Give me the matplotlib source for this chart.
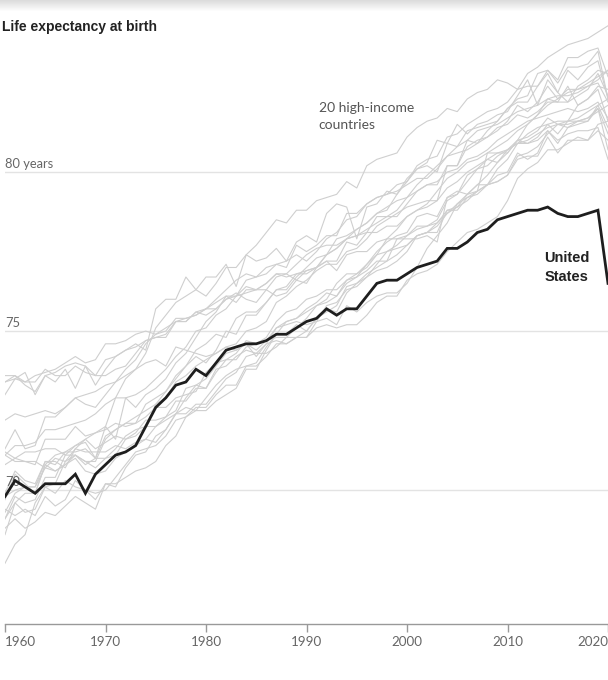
import numpy as np
from matplotlib import pyplot as plt

# ── Data (life expectancy at birth, years) ───────────────────────────────────
years = list(range(1960, 2021))

united_states = [69.8, 70.3, 70.1, 69.9, 70.2, 70.2, 70.2, 70.5, 69.9, 70.5,
                 70.8, 71.1, 71.2, 71.4, 72.0, 72.6, 72.9, 73.3, 73.4, 73.8,
                 73.6, 74.0, 74.4, 74.5, 74.6, 74.6, 74.7, 74.9, 74.9, 75.1,
                 75.3, 75.4, 75.7, 75.5, 75.7, 75.7, 76.1, 76.5, 76.6, 76.6,
                 76.8, 77.0, 77.1, 77.2, 77.6, 77.6, 77.8, 78.1, 78.2, 78.5,
                 78.6, 78.7, 78.8, 78.8, 78.9, 78.7, 78.6, 78.6, 78.7, 78.8,
                 76.5]

japan = [67.7, 68.3, 68.6, 69.6, 70.1, 70.2, 70.9, 71.3, 71.6, 71.8,
         72.0, 72.9, 73.5, 73.8, 74.3, 75.1, 75.5, 75.9, 76.1, 76.3,
         76.1, 76.5, 77.0, 77.0, 77.4, 77.7, 78.1, 78.5, 78.4, 78.8,
         78.8, 79.1, 79.2, 79.3, 79.7, 79.5, 80.2, 80.4, 80.5, 80.6,
         81.1, 81.4, 81.6, 81.7, 82.0, 81.9, 82.3, 82.5, 82.6, 82.9,
         82.8, 82.6, 83.1, 83.3, 83.6, 83.8, 84.0, 84.1, 84.2, 84.4,
         84.6]
sweden = [73.0, 73.5, 73.4, 73.6, 73.7, 73.8, 74.0, 74.2, 74.0, 74.1,
          74.6, 74.6, 74.7, 74.9, 75.0, 74.9, 75.0, 75.4, 75.4, 75.5,
          75.7, 76.0, 76.3, 76.6, 76.8, 76.7, 77.0, 77.1, 77.0, 77.7,
          77.5, 77.7, 78.0, 78.0, 78.7, 78.7, 79.0, 79.2, 79.3, 79.4,
          79.6, 79.8, 79.8, 80.1, 80.5, 80.6, 80.7, 80.9, 81.1, 81.4,
          81.5, 81.8, 81.7, 81.9, 82.2, 82.2, 82.2, 82.4, 82.6, 83.1,
          82.4]
norway = [73.6, 73.6, 73.3, 73.1, 73.6, 73.7, 73.9, 74.0, 73.9, 73.6,
          74.1, 74.2, 74.4, 74.5, 74.7, 74.8, 74.9, 75.3, 75.4, 75.5,
          75.7, 75.7, 76.0, 76.2, 76.0, 75.9, 76.3, 76.1, 76.2, 76.6,
          76.5, 77.0, 77.2, 77.2, 77.8, 77.7, 78.1, 78.1, 78.3, 78.3,
          78.6, 78.8, 79.0, 79.4, 79.8, 80.0, 80.3, 80.4, 80.6, 80.8,
          81.0, 81.3, 81.5, 81.8, 82.1, 82.3, 82.5, 82.6, 82.8, 83.0,
          83.2]
netherlands = [73.4, 73.6, 73.4, 73.4, 73.8, 73.6, 73.6, 73.9, 73.7, 73.6,
               73.6, 73.8, 73.9, 74.3, 74.7, 74.8, 74.8, 75.3, 75.3, 75.6,
               75.7, 75.9, 76.1, 76.1, 76.2, 76.3, 76.3, 76.7, 76.8, 76.6,
               76.9, 77.0, 77.2, 76.9, 77.4, 77.5, 77.5, 77.8, 77.9, 77.9,
               78.0, 78.2, 78.3, 78.5, 79.1, 79.3, 79.7, 80.1, 80.2, 80.5,
               80.7, 81.0, 81.1, 81.3, 81.7, 81.5, 81.5, 81.6, 81.6, 82.1,
               81.4]
iceland = [73.4, 73.5, 73.7, 73.0, 73.6, 73.4, 73.8, 73.2, 73.9, 73.3,
           73.8, 74.2, 74.4, 74.6, 74.4, 75.7, 76.0, 76.0, 76.7, 76.3,
           76.7, 76.7, 77.1, 76.4, 77.4, 77.2, 77.3, 77.6, 77.2, 77.8,
           78.0, 77.8, 78.7, 79.0, 78.9, 77.9, 78.9, 79.0, 79.4, 79.3,
           79.7, 80.1, 80.3, 81.0, 80.9, 81.5, 81.2, 81.5, 81.6, 81.8,
           81.9, 82.4, 82.9, 82.1, 82.9, 82.5, 82.2, 82.7, 82.9, 83.2,
           83.1]
denmark = [72.2, 72.4, 72.3, 72.4, 72.5, 72.4, 72.6, 72.9, 73.0, 73.1,
           73.3, 73.4, 73.6, 73.8, 74.0, 74.1, 73.9, 74.5, 74.4, 74.3,
           74.2, 74.3, 74.5, 74.4, 74.6, 74.4, 74.7, 74.8, 74.8, 74.8,
           74.8, 75.1, 75.2, 75.1, 75.2, 75.2, 75.5, 75.9, 76.1, 76.1,
           76.6, 76.8, 76.9, 77.1, 77.5, 77.8, 78.1, 78.2, 78.4, 78.6,
           79.1, 79.8, 80.1, 80.3, 80.7, 80.7, 80.9, 81.1, 81.0, 81.5,
           81.6]
switzerland = [71.3, 71.9, 71.3, 71.4, 72.3, 72.3, 72.6, 72.9, 72.7, 72.6,
               73.0, 73.4, 73.8, 74.1, 74.6, 74.9, 75.1, 75.3, 75.3, 75.6,
               75.5, 75.7, 76.0, 76.1, 76.6, 76.7, 76.8, 77.1, 77.2, 77.4,
               77.2, 77.5, 77.9, 78.1, 78.5, 78.6, 79.0, 79.2, 79.3, 79.6,
               79.7, 80.2, 80.4, 80.5, 81.1, 81.2, 81.5, 81.7, 81.9, 82.0,
               82.2, 82.6, 82.7, 82.7, 83.2, 82.9, 83.6, 83.6, 83.8, 83.9,
               83.0]
canada = [71.1, 71.4, 71.4, 71.5, 71.9, 71.9, 72.0, 72.1, 72.2, 72.4,
          72.7, 72.9, 72.9, 73.0, 73.2, 73.5, 73.8, 74.2, 74.5, 75.0,
          75.1, 75.5, 75.7, 76.1, 76.4, 76.3, 76.5, 76.8, 76.8, 77.1,
          77.4, 77.6, 77.7, 77.7, 77.9, 78.0, 78.2, 78.4, 78.6, 78.8,
          79.2, 79.4, 79.6, 79.7, 80.0, 80.1, 80.4, 80.5, 80.7, 81.0,
          81.2, 81.4, 81.6, 81.7, 81.8, 81.9, 82.0, 81.9, 82.0, 82.2,
          81.7]
australia = [70.8, 71.0, 70.9, 70.9, 70.7, 71.0, 70.9, 71.1, 70.8, 71.0,
             71.0, 71.3, 71.7, 71.9, 72.0, 72.7, 73.1, 73.5, 73.9, 74.4,
             74.6, 74.9, 74.8, 75.4, 75.6, 75.6, 75.9, 76.3, 76.3, 76.7,
             77.0, 77.3, 77.4, 77.9, 78.0, 78.2, 78.4, 78.7, 78.9, 79.1,
             79.2, 79.6, 79.9, 80.2, 80.5, 80.8, 81.0, 81.3, 81.4, 81.5,
             81.7, 81.9, 82.0, 82.1, 82.3, 82.4, 82.4, 82.5, 82.7, 82.9,
             83.2]
new_zealand = [71.2, 71.0, 71.2, 71.2, 71.3, 71.3, 71.1, 71.4, 71.6, 71.3,
               71.5, 71.7, 71.6, 71.8, 72.2, 72.2, 72.3, 72.5, 73.2, 73.3,
               73.2, 73.8, 73.9, 74.2, 74.4, 74.3, 74.3, 74.5, 74.8, 75.1,
               75.4, 75.8, 76.0, 76.5, 76.8, 76.8, 77.1, 77.4, 77.9, 78.2,
               78.6, 78.8, 78.9, 79.1, 79.5, 79.7, 80.0, 80.2, 80.4, 80.6,
               80.7, 80.9, 81.2, 81.4, 81.5, 81.6, 81.6, 81.7, 81.9, 82.1,
               82.3]
united_kingdom = [71.1, 70.9, 70.9, 70.8, 71.6, 71.6, 71.6, 72.0, 71.7, 71.8,
                  71.9, 72.1, 72.0, 72.1, 72.3, 72.6, 72.6, 72.9, 73.0, 73.1,
                  73.7, 74.0, 74.1, 74.3, 74.7, 74.6, 74.7, 75.1, 75.3, 75.4,
                  75.7, 75.9, 76.2, 76.1, 76.6, 76.7, 76.9, 77.2, 77.2, 77.4,
                  77.7, 78.0, 78.1, 78.3, 78.7, 79.0, 79.2, 79.4, 79.6, 80.1,
                  80.4, 80.9, 80.9, 81.0, 81.3, 81.0, 81.2, 81.3, 81.3, 81.4,
                  80.4]
france = [69.9, 70.6, 70.3, 70.2, 70.9, 70.8, 71.2, 71.2, 71.3, 71.0,
          71.7, 71.9, 72.1, 72.3, 72.5, 72.7, 72.9, 73.4, 73.6, 73.9,
          74.1, 74.3, 74.5, 74.6, 75.0, 75.1, 75.3, 75.9, 76.1, 76.4,
          76.6, 76.9, 77.1, 77.1, 77.5, 77.6, 77.9, 78.3, 78.5, 78.7,
          78.9, 79.0, 79.1, 79.1, 80.2, 80.2, 80.8, 81.0, 81.1, 81.3,
          81.6, 82.1, 81.9, 82.2, 82.7, 82.3, 82.6, 82.6, 82.7, 82.8,
          82.2]
germany = [69.3, 69.9, 70.1, 70.1, 70.7, 70.6, 70.8, 71.0, 70.6, 70.5,
           70.6, 71.0, 71.2, 71.4, 71.6, 71.5, 71.9, 72.4, 72.4, 72.7,
           72.7, 73.1, 73.5, 73.7, 74.2, 74.3, 74.6, 75.1, 75.2, 75.3,
           75.2, 75.3, 75.8, 75.9, 76.3, 76.4, 76.7, 77.1, 77.5, 77.7,
           78.0, 78.3, 78.3, 78.4, 78.7, 78.9, 79.1, 79.4, 79.6, 79.7,
           79.9, 80.4, 80.5, 80.5, 81.1, 80.6, 81.0, 81.0, 81.0, 81.3,
           81.0]
italy = [69.1, 69.8, 69.6, 69.7, 70.4, 70.4, 71.1, 71.1, 70.9, 70.9,
         71.6, 71.9, 72.1, 72.1, 72.7, 72.9, 73.1, 73.6, 73.9, 74.2,
         74.0, 74.4, 75.0, 74.9, 75.5, 75.5, 75.9, 76.3, 76.4, 76.8,
         76.9, 77.0, 77.4, 77.6, 77.9, 78.2, 78.4, 78.7, 78.8, 79.3,
         79.8, 80.1, 80.2, 80.0, 80.9, 80.8, 81.3, 81.4, 81.5, 81.6,
         82.0, 82.2, 82.2, 82.7, 83.1, 82.5, 83.2, 82.9, 83.3, 83.5,
         82.3]
spain = [69.1, 69.6, 69.9, 69.9, 70.8, 71.1, 71.2, 71.4, 71.5, 71.0,
         72.0, 71.6, 72.9, 72.6, 73.0, 73.2, 73.5, 74.0, 74.3, 74.8,
         75.3, 75.6, 76.1, 75.9, 76.3, 76.3, 76.5, 76.8, 76.7, 76.8,
         76.8, 77.0, 77.4, 77.6, 77.9, 78.0, 78.1, 78.6, 78.6, 78.6,
         79.0, 79.4, 79.6, 79.6, 80.2, 80.2, 81.0, 80.9, 81.3, 81.6,
         82.0, 82.3, 82.4, 83.1, 83.2, 82.8, 83.3, 83.3, 83.4, 83.8,
         82.3]
austria = [68.6, 69.6, 69.3, 69.4, 70.1, 69.9, 70.3, 70.1, 70.0, 69.9,
           70.0, 70.4, 70.8, 71.2, 71.3, 71.4, 71.7, 72.2, 72.3, 72.6,
           72.6, 73.0, 73.3, 73.3, 73.9, 74.0, 74.5, 74.9, 75.3, 75.4,
           75.6, 75.8, 75.9, 76.1, 76.5, 76.7, 77.1, 77.5, 77.8, 78.0,
           78.1, 78.6, 78.7, 78.6, 79.2, 79.3, 79.9, 80.1, 80.4, 80.3,
           80.6, 81.0, 80.9, 81.1, 81.5, 81.2, 81.6, 81.6, 81.7, 82.0,
           81.2]
finland = [68.8, 69.1, 68.8, 69.0, 69.3, 69.2, 69.5, 69.8, 69.6, 69.4,
           70.2, 70.1, 70.7, 71.1, 71.2, 71.7, 71.9, 72.4, 72.9, 73.3,
           73.5, 73.9, 74.3, 74.4, 74.6, 74.2, 74.6, 74.7, 74.6, 74.8,
           75.0, 75.4, 75.6, 75.8, 76.4, 76.5, 76.7, 76.9, 77.0, 77.2,
           77.5, 78.0, 78.1, 78.4, 78.8, 78.8, 79.2, 79.3, 79.6, 79.7,
           79.9, 80.5, 80.6, 80.8, 81.2, 81.5, 81.4, 81.6, 81.7, 81.9,
           82.1]
belgium = [69.7, 70.5, 70.2, 69.9, 70.8, 70.6, 70.8, 71.1, 70.9, 70.7,
           71.0, 71.1, 71.6, 71.7, 72.0, 72.0, 72.3, 72.8, 72.8, 73.2,
           73.2, 73.7, 74.1, 74.1, 74.5, 74.6, 74.8, 75.3, 75.6, 75.7,
           76.0, 76.1, 76.3, 76.3, 76.6, 76.8, 77.0, 77.4, 77.5, 77.6,
           77.7, 78.0, 78.1, 78.1, 78.8, 78.9, 79.3, 79.6, 79.6, 79.9,
           80.0, 80.6, 80.4, 80.6, 81.3, 80.9, 81.4, 81.5, 81.6, 82.0,
           80.7]
ireland = [69.8, 70.0, 70.1, 70.1, 70.9, 70.9, 70.7, 71.3, 71.2, 71.2,
           71.2, 71.4, 71.3, 71.5, 71.6, 72.0, 72.2, 72.4, 72.6, 72.5,
           72.9, 73.3, 73.6, 73.8, 73.9, 73.9, 74.2, 74.6, 74.6, 74.8,
           74.8, 75.3, 75.4, 75.2, 75.8, 75.6, 75.9, 76.1, 76.2, 76.2,
           76.5, 77.0, 77.6, 78.0, 78.4, 79.0, 79.3, 79.6, 79.9, 80.3,
           80.7, 80.9, 81.0, 81.2, 81.4, 81.5, 81.6, 82.1, 82.3, 82.7,
           82.6]
luxembourg = [69.4, 69.2, 69.4, 69.2, 69.8, 69.5, 69.7, 70.3, 70.0, 69.7,
              70.2, 70.2, 70.4, 70.6, 70.7, 70.9, 71.4, 71.7, 72.3, 72.5,
              72.5, 72.8, 73.0, 73.2, 73.8, 73.8, 74.4, 74.9, 74.9, 75.2,
              75.0, 75.4, 75.7, 75.6, 76.2, 76.5, 76.8, 77.0, 77.2, 77.9,
              77.9, 77.9, 78.0, 77.8, 79.2, 79.4, 79.3, 79.4, 80.6, 80.6,
              80.6, 81.0, 81.5, 81.8, 82.3, 82.2, 82.7, 82.1, 82.3, 82.6,
              81.6]

peers = [japan, sweden, norway, netherlands, iceland, denmark, switzerland,
         canada, australia, new_zealand, united_kingdom, france, germany,
         italy, spain, austria, finland, belgium, ireland, luxembourg]

x_ticks = [1960, 1970, 1980, 1990, 2000, 2010, 2020]
y_grid = [70, 75, 80]
y_labels = ["70", "75", "80 years"]

# ── Figure ───────────────────────────────────────────────────────────────────
fig = plt.figure(figsize=(6.08, 6.80), dpi=100)
fig.patch.set_facecolor("white")

ax = fig.add_axes([5 / 608, 56 / 680, 603 / 608, 624 / 680])
ax.set_xlim(1960, 2020)
ax.set_ylim(65.79, 85.41)

for yv, lab in zip(y_grid, y_labels):
    ax.axhline(yv, color="#e3e3e3", lw=1.0, zorder=1)
    ax.text(1960, yv + 0.08, lab, ha="left", va="bottom", fontsize=9.3,
            family="Lato", color="#666666", zorder=3)

for series in peers:
    ax.plot(years, series, color="#cfcfcf", lw=0.8, zorder=2)

ax.plot(years, united_states, color="#1e1e1e", lw=2.0, zorder=4,
        solid_joinstyle="miter")

ax.text(1991.2, 81.74, "20 high-income\ncountries", fontsize=10,
        family="Lato", color="#555555", ha="left", va="center",
        linespacing=1.45)
ax.text(2013.65, 77.0, "United\nStates", fontsize=10.5,
        family="Liberation Sans", fontweight="bold", color="#222222",
        ha="left", va="center", linespacing=1.42)

# ── Axes ─────────────────────────────────────────────────────────────────────
for side in ["top", "right", "left"]:
    ax.spines[side].set_visible(False)
ax.spines["bottom"].set_color("#999999")
ax.spines["bottom"].set_linewidth(1.0)
ax.set_yticks([])
ax.set_xticks(x_ticks)
ax.set_xticklabels([str(v) for v in x_ticks], family="Lato", fontsize=9.6,
                   color="#666666")
ax.tick_params(axis="x", length=6, width=1, color="#999999", pad=3)
labels = ax.get_xticklabels()
labels[0].set_ha("left")
labels[0].set_x(1959.7)
labels[-1].set_ha("right")
labels[-1].set_x(2020.4)

fig.text(2 / 608, 1 - 27 / 680, "Life expectancy at birth", fontsize=10,
         family="Liberation Sans", fontweight="bold", color="#222222",
         ha="left", va="center")

# screenshot shadow along the top edge
shade = fig.add_axes([0, 1 - 12 / 680, 1, 12 / 680])
grad = np.linspace(0.86, 1.0, 12).reshape(-1, 1)
shade.imshow(grad, aspect="auto", cmap="gray", vmin=0, vmax=1,
             extent=[0, 1, 0, 1], origin="upper")
shade.axis("off")

fig.savefig("out.png", dpi=100, facecolor="white")
